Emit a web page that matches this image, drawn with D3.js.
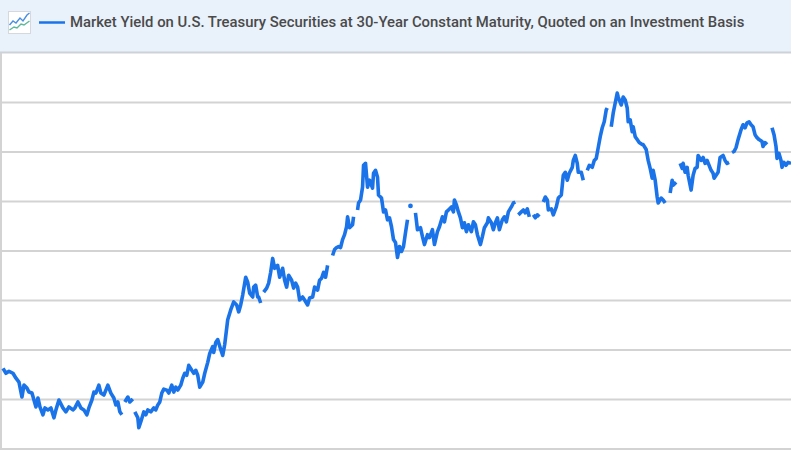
<!DOCTYPE html>
<html>
<head>
<meta charset="utf-8">
<script src="https://cdn.jsdelivr.net/npm/d3@7"></script>
<style>
body { margin: 0; background: #ffffff; }
</style>
</head>
<body>
<script>
var seriesTitle = "Market Yield on U.S. Treasury Securities at 30-Year Constant Maturity, Quoted on an Investment Basis";

// trading session index and 30y yield (percent), null = missing day (gap in line)
var session = [
  2,5,8,12,15,18,21,23,26,28,31,33,35,37,39,42,44,47,50,53,55,58,62,65,68,72,74,77,80,83,86,88,91,93,95,98,100,103,105,107,110,113,115,117,119,121,
  122,
  124,127,129,132,
  133,
  134,137,138,140,143,145,147,150,153,155,157,159,161,163,166,168,171,173,175,177,180,182,184,186,188,191,193,195,197,199,202,204,207,209,212,213,215,217,220,222,224,227,230,233,236,238,240,242,245,247,249,252,253,255,257,258,260,
  261,
  263,266,268,270,272,274,277,279,282,284,286,288,291,293,295,297,299,302,304,307,309,312,314,317,319,321,323,325,327,
  329,
  332,334,336,338,340,342,344,346,347,349,352,353,
  355,
  357,358,360,362,363,365,367,369,372,373,375,377,378,381,383,385,387,389,391,393,395,397,399,401,403,405,407,
  408,
  410,
  412,
  415,417,420,422,424,427,429,432,434,437,439,442,444,446,448,451,453,454,456,458,460,462,464,466,468,471,473,475,477,480,482,484,487,488,491,493,495,497,499,502,504,506,508,511,513,515,
  516,
  518,521,523,525,527,529,
  531,
  533,535,537,539,
  541,
  543,545,547,548,551,553,556,558,561,563,565,567,569,572,573,575,577,578,581,583,
  585,
  587,589,592,594,596,598,600,602,604,606,607,
  609,
  611,613,615,617,618,621,623,625,627,628,630,632,633,635,637,639,642,643,646,648,650,652,653,655,657,658,661,663,665,
  667,
  670,672,673,676,
  678,
  680,682,683,685,687,688,691,693,695,697,698,701,703,705,707,709,711,713,714,716,718,720,723,725,727,729,
  730,
  732,734,736,738,741,743,745,747,749,751,753,755,757,759,762,763,765,767,
  769,
  772,774,776,777,779,781,782,784,786,788,791
];

var yield30 = [
  2.31,2.26,2.28,2.26,2.21,2.17,2.02,2.14,2.11,2.07,2.06,1.99,1.92,2.01,1.92,1.84,1.91,1.89,1.91,1.81,1.89,1.99,1.91,1.87,1.92,1.89,1.91,1.97,1.91,1.89,1.84,1.91,1.99,2.07,2.06,2.14,2.06,2.04,2.09,2.14,2.06,2.01,1.94,1.97,1.87,1.84,
  null,
  1.97,2.02,1.97,2.00,
  null,
  1.87,1.81,1.71,1.77,1.87,1.84,1.89,1.87,1.91,1.89,1.94,1.97,2.06,2.10,2.09,2.06,2.14,2.07,2.12,2.09,2.14,2.21,2.26,2.24,2.34,2.29,2.26,2.29,2.24,2.12,2.17,2.26,2.37,2.46,2.53,2.47,2.57,2.60,2.50,2.44,2.55,2.80,2.90,2.98,2.95,2.88,2.95,3.05,3.23,3.18,3.07,3.03,3.13,3.15,3.03,3.03,2.97,
  null,
  3.08,3.12,3.17,3.28,3.42,3.32,3.35,3.23,3.32,3.20,3.13,3.25,3.20,3.12,3.17,3.13,3.00,3.03,3.00,2.95,3.02,3.03,3.13,3.10,3.20,3.22,3.28,3.23,3.35,
  null,
  3.45,3.51,3.53,3.54,3.53,3.61,3.66,3.74,3.84,3.73,3.76,3.84,
  null,
  3.91,3.98,4.01,4.14,4.36,4.38,4.14,4.21,4.13,4.28,4.31,4.24,4.06,4.03,3.89,3.91,3.81,3.83,3.74,3.61,3.58,3.43,3.54,3.49,3.54,3.68,3.81,
  null,
  3.95,
  null,
  3.88,3.71,3.73,3.64,3.56,3.66,3.63,3.71,3.56,3.69,3.74,3.84,3.79,3.89,3.91,3.94,3.89,4.01,3.96,3.89,3.83,3.73,3.78,3.69,3.76,3.69,3.79,3.76,3.66,3.56,3.64,3.73,3.78,3.83,3.78,3.71,3.78,3.83,3.71,3.81,3.84,3.79,3.89,3.94,3.98,3.99,
  null,
  3.86,3.89,3.91,3.88,3.92,3.84,
  null,
  3.86,3.83,3.86,3.84,
  null,
  3.99,4.04,4.01,3.91,3.92,3.86,3.94,4.03,4.06,4.26,4.29,4.21,4.28,4.34,4.41,4.46,4.38,4.29,4.29,4.21,
  null,
  4.31,4.36,4.34,4.41,4.43,4.54,4.65,4.74,4.80,4.92,4.94,
  null,
  4.75,4.89,4.99,5.09,5.05,4.97,5.05,5.02,4.94,4.80,4.82,4.70,4.75,4.65,4.62,4.59,4.57,4.57,4.52,4.41,4.33,4.23,4.31,4.21,4.04,3.98,4.03,4.01,3.98,
  null,
  4.08,4.21,4.16,4.19,
  null,
  4.38,4.33,4.38,4.29,4.34,4.26,4.11,4.26,4.33,4.34,4.46,4.41,4.44,4.38,4.41,4.36,4.31,4.28,4.23,4.26,4.29,4.44,4.46,4.41,4.38,4.39,
  null,
  4.49,4.50,4.54,4.62,4.72,4.77,4.74,4.79,4.80,4.77,4.75,4.67,4.64,4.62,4.60,4.55,4.59,4.57,
  null,
  4.74,4.67,4.55,4.43,4.48,4.41,4.34,4.39,4.36,4.39,4.38
];

var gridTicks = [1.5, 2, 2.5, 3, 3.5, 4, 4.5, 5];

var lineColor = "#1a73e8";

//Define sizes
var width = 791, height = 450, headerHeight = 52;
var margin = {left: 1, right: 0, top: 52.5, bottom: 1.5 };

var svg = d3.select("body").append("svg")
    .attr("width", width)
    .attr("height", height);

// header band with legend
svg.append("rect")
    .attr("x", 0).attr("y", 0)
    .attr("width", width).attr("height", headerHeight)
    .attr("fill", "#e9f1fa");

svg.append("line")
    .attr("x1", 0).attr("x2", width)
    .attr("y1", headerHeight + 0.5).attr("y2", headerHeight + 0.5)
    .attr("stroke", "#cdd2d8")
    .attr("stroke-width", 2);

// little chart icon
var icon = svg.append("g").attr("transform", "translate(8,11)");
icon.append("rect")
    .attr("x", 0.5).attr("y", 0.5)
    .attr("width", 22).attr("height", 22)
    .attr("fill", "#ffffff")
    .attr("stroke", "#d5d9de");
icon.append("polyline")
    .attr("points", "1.5,14 5,10 8,12 12,7 15,10 19,4 21.5,2")
    .attr("fill", "none").attr("stroke", "#4a8fe0").attr("stroke-width", 1.4);
icon.append("polyline")
    .attr("points", "1.5,19 6,16 9,17 13,13 16,14 21.5,10")
    .attr("fill", "none").attr("stroke", "#5cb89a").attr("stroke-width", 1.4);

svg.append("line")
    .attr("x1", 39).attr("x2", 65)
    .attr("y1", 22.5).attr("y2", 22.5)
    .attr("stroke", lineColor)
    .attr("stroke-width", 2.5);

var title = svg.append("text")
    .attr("x", 70)
    .attr("y", 27)
    .attr("fill", "#4a4a4a")
    .style("font-family", "Roboto, 'Noto Sans', sans-serif")
    .style("font-weight", 500)
    .style("font-size", "13.5px")
    .text(seriesTitle);

// fit the title to the width seen in the picture
var tlen = title.node().getComputedTextLength();
title.style("font-size", (13.5 * 675 / tlen) + "px");

//scales
var x = d3.scaleLinear()
    .domain([0, 791])
    .range([margin.left, width]);

var y = d3.scaleLinear()
    .domain([1.5, 5.5])
    .range([height - margin.bottom, margin.top]);

// grid lines
var grid = svg.append("g")
    .attr("class", "grid")
    .call(d3.axisLeft(y)
        .tickValues(gridTicks)
        .tickSize(-width)
        .tickFormat(""));
grid.select(".domain").remove();
grid.selectAll(".tick line")
    .attr("stroke", "#d3d3d3")
    .attr("stroke-width", 2);

// left frame edge
svg.append("line")
    .attr("x1", 1).attr("x2", 1)
    .attr("y1", headerHeight + 1).attr("y2", height)
    .attr("stroke", "#d3d3d3")
    .attr("stroke-width", 2);

var data = session.map(function(s, i) {
    return {s: s, v: yield30[i]};
});

var line = d3.line()
    .defined(function(d) { return d.v != null; })
    .x(function(d) { return x(d.s); })
    .y(function(d) { return y(d.v); });

svg.append("path")
    .datum(data)
    .attr("d", line)
    .attr("fill", "none")
    .attr("stroke", lineColor)
    .attr("stroke-width", 3.6)
    .attr("stroke-linejoin", "round")
    .attr("stroke-linecap", "butt");

// single days surrounded by gaps draw as dots
var lonely = data.filter(function(d, i) {
    return d.v != null &&
        (i == 0 || data[i - 1].v == null) &&
        (i == data.length - 1 || data[i + 1].v == null);
});
svg.selectAll("circle.lonely")
    .data(lonely)
    .enter().append("circle")
    .attr("class", "lonely")
    .attr("cx", function(d) { return x(d.s); })
    .attr("cy", function(d) { return y(d.v); })
    .attr("r", 2.4)
    .attr("fill", lineColor);
</script>
</body>
</html>
